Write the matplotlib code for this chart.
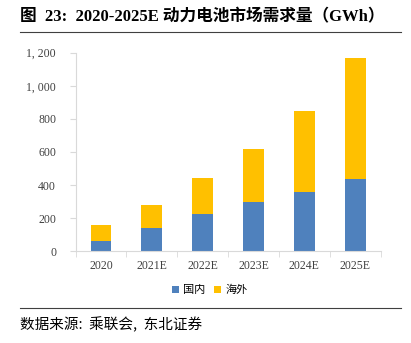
import matplotlib
matplotlib.use("Agg")
import matplotlib.pyplot as plt
import numpy as np
from matplotlib.lines import Line2D

plt.rcParams['font.family'] = ['Liberation Serif', 'Noto Sans CJK SC', 'DejaVu Sans']

# Power battery demand (GWh)
years = ['2020', '2021E', '2022E', '2023E', '2024E', '2025E']
domestic = [62, 143, 228, 298, 360, 435]
overseas = [95, 139, 213, 320, 490, 733]
y_ticks = [0, 200, 400, 600, 800, 1000, 1200]
y_labels = ['0', '200', '400', '600', '800', '1, 000', '1, 200']

blue = '#4F81BD'
gold = '#FFC000'
axis_grey = '#D9D9D9'

fig = plt.figure(figsize=(4.11, 3.43), dpi=100)
ax = fig.add_axes([75.5 / 411, 1 - 251.3 / 343, 305.2 / 411, 198.6 / 343])

x = np.arange(len(years))
ax.bar(x, domestic, width=0.41, color=blue, label='国内', zorder=2)
ax.bar(x, overseas, width=0.41, bottom=domestic, color=gold, label='海外', zorder=2)

ax.set_xlim(-0.5, len(years) - 0.5)
ax.set_ylim(0, 1200)
ax.set_yticks(y_ticks)
ax.set_yticklabels(y_labels, fontsize=8.5, color='#404040')
ax.set_xticks(x)
ax.set_xticklabels(years, fontsize=8.5, color='#404040')
ax.set_xticks(np.arange(-0.5, len(years)), minor=True)
ax.tick_params(axis='x', which='major', length=0, pad=6)
ax.tick_params(axis='x', which='minor', length=4, color=axis_grey, direction='out')
ax.tick_params(axis='y', length=4, color=axis_grey, pad=10)

for side in ['top', 'right']:
    ax.spines[side].set_visible(False)
ax.spines['left'].set_color(axis_grey)
ax.spines['bottom'].set_color(axis_grey)

ax.legend(loc='upper center', bbox_to_anchor=(0.44, -0.12), ncol=2, frameon=False,
          handlelength=0.6, handleheight=0.6, handletextpad=0.4,
          columnspacing=0.8, prop={'family': ['Noto Sans CJK SC'], 'size': 8})

# Header and footer
fig.text(20 / 411, 1 - 17 / 343, '图  23:  2020-2025E 动力电池市场需求量（GWh）',
         fontsize=12, fontweight='bold', va='center', ha='left',
         family=['Liberation Serif', 'Noto Sans CJK SC'])
fig.add_artist(Line2D([20 / 411, 401 / 411], [1 - 32 / 343, 1 - 32 / 343],
                      color='#404040', linewidth=0.8))
fig.add_artist(Line2D([20 / 411, 401 / 411], [1 - 308 / 343, 1 - 308 / 343],
                      color='#404040', linewidth=0.8))
fig.text(20 / 411, 1 - 325 / 343, '数据来源:  乘联会,  东北证券',
         fontsize=10.5, va='center', ha='left', family=['Noto Sans CJK SC'])

fig.savefig('out.png', dpi=100)
